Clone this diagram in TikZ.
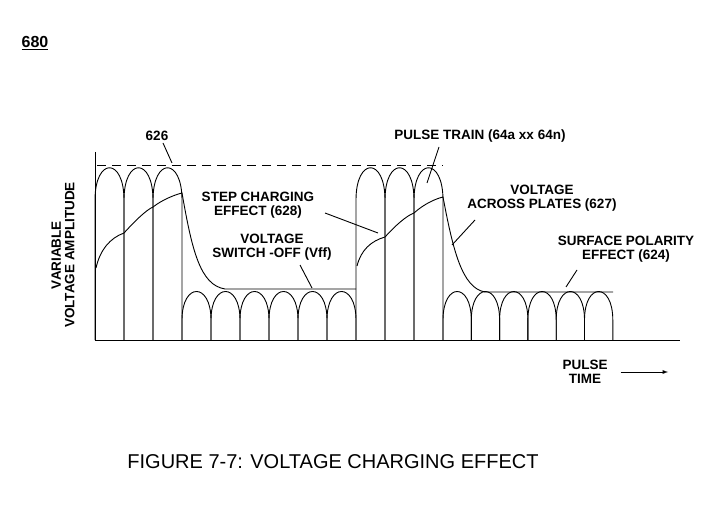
\documentclass[tikz,border=0pt]{standalone}
\usepackage{fontspec}
\setmainfont{Liberation Sans}
\usetikzlibrary{positioning}

\tikzset{
  lbl/.style={font=\fontsize{13.5}{13.5}\selectfont\bfseries, align=center, inner sep=1pt},
  lead/.style={line width=0.9pt},
  wave/.style={line width=0.9pt},
}

\begin{document}
\begin{tikzpicture}[x=1pt, y=-1pt]
\useasboundingbox (0,0) rectangle (723,505);

% axes
\draw[wave] (95,152) -- (95,340) -- (680,340);
\draw[wave, dashed, dash pattern=on 9pt off 6pt] (97,165) -- (443,165);

% tall pulses
\foreach \xa in {95,124,153,356,385,414}{
  \draw[wave] (\xa,340) -- (\xa,200) .. controls (\xa,157) and (\xa+29,157) .. (\xa+29,200) -- (\xa+29,340);
}
% short pulses
\foreach \xa in {182,211,240,269,298,327}{
  \draw[wave] (\xa,340) -- (\xa,320) .. controls (\xa,282) and (\xa+29,282) .. (\xa+29,320) -- (\xa+29,340);
}
\foreach \i in {0,...,5}{
  \pgfmathsetmacro{\xa}{443+28.3*\i}
  \draw[wave] (\xa,340) -- (\xa,320) .. controls (\xa,282) and (\xa+28.3,282) .. (\xa+28.3,320) -- (\xa+28.3,340);
}

% voltage across plates
\draw[wave] (96,268) .. controls (100,250) and (110,238) .. (124,233)
  .. controls (134,222) and (146,210) .. (153,207)
  .. controls (162,200) and (174,195) .. (182,193)
  .. controls (192,250) and (200,285) .. (225,289) -- (356,289);
\draw[wave] (357,266) .. controls (361,250) and (371,241) .. (385,237)
  .. controls (395,226) and (406,216) .. (414,213)
  .. controls (424,204) and (435,199) .. (443,197)
  .. controls (453,250) and (462,288) .. (485,292) -- (613,292);

% labels
\node[lbl] (n626) at (157,136) {626};
\node[lbl] (step) at (258,205) {STEP CHARGING\\EFFECT (628)};
\node[lbl] (vff) at (272,247) {VOLTAGE\\SWITCH -OFF (Vff)};
\node[lbl] (train) at (480,136) {PULSE TRAIN (64a xx 64n)};
\node[lbl] (plates) at (542,198) {VOLTAGE\\ACROSS PLATES (627)};
\node[lbl] (surf) at (626,249) {SURFACE POLARITY\\EFFECT (624)};
\node[lbl, rotate=90] (amp) at (63,255) {VARIABLE\\VOLTAGE AMPLITUDE};
\node[lbl] (time) at (585,372) {PULSE\\TIME};
\node[font=\fontsize{16}{17}\selectfont\bfseries, inner sep=1pt] (fig) at (35,43) {\underline{680}};
\node[font=\fontsize{20}{21}\selectfont, inner sep=1pt] (cap) at (333,462) {FIGURE 7-7: VOLTAGE CHARGING EFFECT};

% leaders
\coordinate (p626) at (172,163);
\coordinate (pstep) at (378,233);
\coordinate (pvff) at (312,288);
\coordinate (ptrain) at (427,183);
\coordinate (pplates) at (452,245);
\coordinate (psurf) at (566,287);
\coordinate (ptime) at (668,372);
\draw[lead] (163,143) -- (p626);
\draw[lead] (325,213) -- (pstep);
\draw[lead] (300,265) -- (pvff);
\draw[lead] (439,147) -- (ptrain);
\draw[lead] (475,220) -- (pplates);
\draw[lead] (577,270) -- (psurf);
\draw[lead, -latex] (time.east) ++(12,0) -- (ptime);
\end{tikzpicture}
\end{document}
